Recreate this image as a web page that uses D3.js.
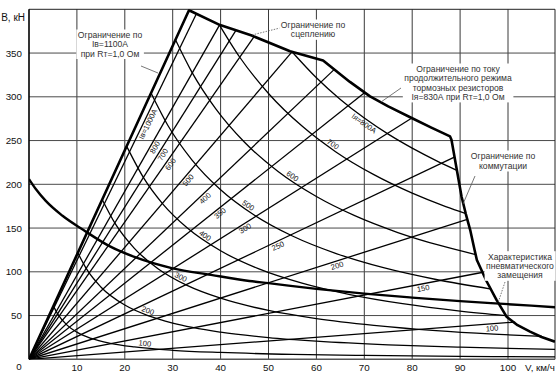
<!DOCTYPE html>
<html><head><meta charset="utf-8">
<script src="https://cdn.jsdelivr.net/npm/d3@7/dist/d3.min.js"></script>
<style>
body{margin:0;background:#fff}
svg{display:block;font-family:"Liberation Sans",Arial,sans-serif}
</style>
</head><body>
<svg id="chart" width="557" height="373"></svg>
<script>
// ---------- data ----------
const xTicks = [10,20,30,40,50,60,70,80,90,100];
const yTicks = [50,100,150,200,250,300,350];

// rays of constant excitation current Iв (from origin to end point)
const rayCurrents = ["Iв=1000А","800","700","600","500","400","350","300","250","200","150","100"];
const rayEndV = [34.95,39.8,43.2,47.0,54.9,63.8,70.1,80.1,88.8,91.5,94.8,101.5];
const rayEndB = [394.9,382.2,376,368.9,351.4,331.6,305,276.3,231,160,99.5,42.6];

// curves of constant armature current Iя  [V, B]
const armCurrents = ["100","200","300","400","500","600","700","Iя=800А"];
const arm100 = [[5.1,60.8],[6,51.7],[8,38.8],[10,31],[13,23.8],[17,18.2],[22,14.1],[30,10.3],[40,7.8],[55,5.6],[70,4.4],[90,3.4],[110,2.8]];
const arm200 = [[10.2,121.6],[12,103.3],[15,82.7],[20,62],[25,49.6],[30,41.3],[40,31],[50,24.8],[60,20.7],[75,16.5],[90,13.8],[110,11.3]];
const arm300 = [[15.3,182.4],[18,155],[22,126.8],[27,103.3],[33,84.5],[40,69.8],[50,55.8],[60,46.5],[72,38.8],[85,32.8],[97,28.8],[107.1,26.1]];
const arm400 = [[20.4,243.3],[24,206.7],[28,177.1],[33,150.3],[40,124],[48,103.3],[57,87],[67,74],[78,63.6],[90,55.1],[99.55,49.9]];
const arm500 = [[25.5,304],[29,267.2],[34,228],[40,193.8],[47,164.9],[55,140.9],[64,121.1],[74,104.7],[85,91.2],[96.5,80.3]];
const arm600 = [[30.6,364.9],[34,328.2],[39,286.2],[45,248],[52,214.6],[60,186],[68,164.1],[77,144.9],[86,129.8],[93.25,119.7]];
const arm700 = [[39.7,382.6],[44,345.2],[50,303.8],[57,266.5],[64,237.3],[72,211],[80,189.9],[87,174.6],[91.2,166.6]];
const arm800 = [[55,350.9],[60,321.7],[65,296.9],[70,275.7],[75,257.3],[80,241.3],[85,227.1],[89.33,216]];
const armSeries = [arm100,arm200,arm300,arm400,arm500,arm600,arm700,arm800];

// limiting envelope: Iв=1100A line, adhesion, Iя=830A, commutation
const envelope = [[0,0],[33.4,398.9],[39.9,382],[46.5,370],[54.5,352],[61.4,341.6],[64,330],[67,317],[71.2,300.5],[75,289],[80,275.5],[84,264.8],[87.9,254.7],[88.2,251],[89.2,220],[90.3,186],[91.2,166],[92.1,148],[93,125.5],[93.5,113.5],[95.5,89.5],[97.6,67.9],[99.7,48.7],[102,39],[104.6,31.6],[107,25.5],[109.8,20.1]];

// pneumatic replacement characteristic
const pneumatic = [[0,206],[1.5,194],[3.5,181],[7,164],[11.3,148],[16.9,129],[22,117],[30,104],[38,96.5],[46,89.5],[50,87],[60,80.5],[70,75],[80,70.5],[90,66.5],[100,63],[110,59.5]];

// label anchor speeds (placement only)
const rayLabelV = [24,25.5,27.2,28.8,32.5,36.1,39.3,44.6,51.6,64,82.1,96.6];
const armLabelV = [24.1,24.5,31.3,36.2,45.2,54.4,62.9,70.5];
const armLabelSide = [1,1,1,1,1,1,1,-1];

// ---------- drawing ----------
const svg = d3.select("#chart");
const x = d3.scaleLinear().domain([0,110]).range([29,555.9]);
const y = d3.scaleLinear().domain([0,400]).range([359.3,9.3]);
const X0 = x(0), X1 = 555, Y0 = y(0), Y1 = y(400);

svg.append("rect").attr("width",557).attr("height",373).attr("fill","#fff");
svg.append("defs").append("clipPath").attr("id","clip")
  .append("rect").attr("x",X0).attr("y",Y1).attr("width",X1-X0).attr("height",Y0-Y1);

// grid
const grid = svg.append("g");
grid.selectAll(".vg").data(xTicks).join("line")
  .attr("x1",d=>x(d)).attr("x2",d=>x(d)).attr("y1",Y0).attr("y2",Y1)
  .attr("stroke","#3a3a3a").attr("stroke-width",1);
grid.selectAll(".hg").data(yTicks).join("line")
  .attr("x1",X0).attr("x2",X1).attr("y1",d=>y(d)).attr("y2",d=>y(d))
  .attr("stroke","#4a4a4a").attr("stroke-width",1);
// frame
svg.append("line").attr("x1",X0).attr("x2",X1).attr("y1",Y1).attr("y2",Y1).attr("stroke","#222").attr("stroke-width",1);
svg.append("line").attr("x1",X1).attr("x2",X1).attr("y1",Y1).attr("y2",Y0).attr("stroke","#222").attr("stroke-width",1);
svg.append("line").attr("x1",X0).attr("x2",X1).attr("y1",Y0).attr("y2",Y0).attr("stroke","#555").attr("stroke-width",1.6);
svg.append("line").attr("x1",X0).attr("x2",X0).attr("y1",Y1).attr("y2",Y0).attr("stroke","#000").attr("stroke-width",1.6);

const plot = svg.append("g").attr("clip-path","url(#clip)");
const lineLin = d3.line().x(d=>x(d[0])).y(d=>y(d[1]));
const lineSmooth = d3.line().x(d=>x(d[0])).y(d=>y(d[1])).curve(d3.curveMonotoneX);

// rays
const rayPaths = rayCurrents.map((c,i)=>
  plot.append("path").attr("d", lineLin([[0,0],[rayEndV[i],rayEndB[i]]]))
    .attr("fill","none").attr("stroke","#000").attr("stroke-width",1.3).node());
// armature current curves
const armPaths = armSeries.map(s=>
  plot.append("path").attr("d", lineSmooth(s))
    .attr("fill","none").attr("stroke","#000").attr("stroke-width",1.3).node());
// thick curves
plot.append("path").attr("d", lineSmooth(pneumatic)).attr("fill","none").attr("stroke","#000").attr("stroke-width",2.4);
plot.append("path").attr("d", lineLin(envelope)).attr("fill","none").attr("stroke","#000").attr("stroke-width",2.6).attr("stroke-linejoin","round");

// curve labels
function placeLabel(node, targetX, offset, text){
  const L = node.getTotalLength();
  let best=0, bd=1e9;
  for(let s=0;s<=L;s+=0.5){ const p=node.getPointAtLength(s); const d=Math.abs(p.x-targetX); if(d<bd){bd=d;best=s;} }
  const p=node.getPointAtLength(best);
  const a=node.getPointAtLength(Math.max(0,best-3)), b=node.getPointAtLength(Math.min(L,best+3));
  let dx=b.x-a.x, dy=b.y-a.y; const n=Math.hypot(dx,dy); dx/=n; dy/=n;
  const nx=dy, ny=-dx;
  const cx=p.x+nx*offset, cy=p.y+ny*offset;
  const ang=Math.atan2(dy,dx)*180/Math.PI;
  svg.append("text").attr("transform",`translate(${cx},${cy}) rotate(${ang})`)
    .attr("text-anchor","middle").attr("dominant-baseline","central")
    .attr("font-size",7.6).attr("fill","#111").text(text);
}
rayPaths.forEach((nd,i)=>placeLabel(nd, x(rayLabelV[i]), -4.6, rayCurrents[i]));
armPaths.forEach((nd,i)=>placeLabel(nd, x(armLabelV[i]), 4.6*armLabelSide[i], armCurrents[i]));

// axis tick labels
const tickFont = 9.8;
svg.selectAll(".xt").data(xTicks).join("text")
  .attr("x",d=>x(d)).attr("y",370.8).attr("text-anchor","middle").attr("font-size",tickFont).attr("fill","#111").text(d=>d);
svg.selectAll(".yt").data(yTicks).join("text")
  .attr("x",22).attr("y",d=>y(d)+3.5).attr("text-anchor","end").attr("font-size",tickFont).attr("fill","#111").text(d=>d);
svg.append("text").attr("x",19).attr("y",370).attr("text-anchor","middle").attr("font-size",tickFont).attr("fill","#111").text("0");
svg.append("text").attr("x",25).attr("y",20.5).attr("text-anchor","end").attr("font-size",10).attr("fill","#111").text("В, кН");
svg.append("text").attr("x",525).attr("y",370.8).attr("text-anchor","start").attr("font-size",tickFont).attr("fill","#111").text("V, км/ч");

// annotations
function leader(x1,y1,x2,y2,dotted){
  const l=svg.append("line").attr("x1",x1).attr("y1",y1).attr("x2",x2).attr("y2",y2)
    .attr("stroke","#555").attr("stroke-width",0.8);
  if(dotted) l.attr("stroke-dasharray","1.5,1.3");
}
function note(cx, ys, lines){
  const g=svg.append("g");
  const bg=g.append("rect").attr("fill","#fff");
  lines.forEach((t,i)=>g.append("text").attr("x",cx).attr("y",ys[i]+3)
    .attr("text-anchor","middle").attr("font-size",8.6).attr("fill","#333").text(t));
  const bb=g.node().getBBox();
  bg.attr("x",bb.x-1.5).attr("y",bb.y-0.5).attr("width",bb.width+3).attr("height",bb.height+1);
}
leader(141,66,158,73,false);
note(110,[35,44.3,53.5],["Ограничение по","Iв=1100А","при Rт=1,0 Ом"]);
leader(252,35,282,27.5,true);
note(313,[25,34.3],["Ограничение по","сцеплению"]);
leader(401,88,381,102,false);
note(458,[69,78.3,87.6,96.9],["Ограничение по току","продолжительного режима","тормозных резисторов","Iя=830А при Rт=1,0 Ом"]);
leader(475,176,463,204,false);
note(503,[156,166],["Ограничение по","коммутации"]);
leader(505,282,498,303,true);
note(520,[256.7,266,275.3],["Характеристика","пневматического","замещения"]);
</script>
</body></html>
